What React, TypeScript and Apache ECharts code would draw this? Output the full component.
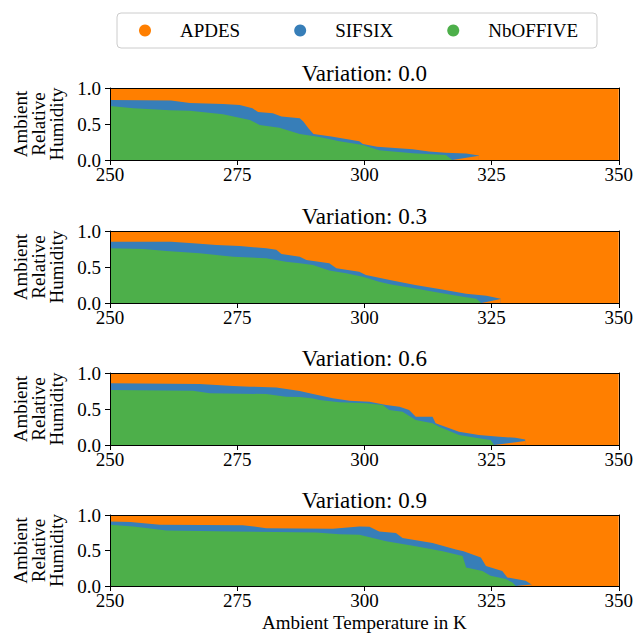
import React, { useEffect, useRef } from "react";
import * as echarts from "echarts";

// ---- data ----
const variations = ["0.0", "0.3", "0.6", "0.9"];
const xTicks = [250, 275, 300, 325, 350];
const yTicks = [0, 0.5, 1.0];
const legendNames = ["APDES", "SIFSIX", "NbOFFIVE"];

// SIFSIX upper boundary [temperature K, humidity]
const sifsix00: [number, number][] = [
  [250, 0.835], [262, 0.825], [265.7, 0.79], [272.2, 0.778], [275.5, 0.765], [278, 0.72],
  [279.1, 0.665], [282, 0.648], [283.7, 0.605], [287.3, 0.58], [288, 0.535], [289, 0.44],
  [290, 0.36], [293.5, 0.325], [296.4, 0.29], [299, 0.26], [299.7, 0.222], [302.5, 0.185],
  [309.5, 0.148], [312.7, 0.118], [316, 0.1], [320, 0.092], [322.5, 0.062],
];
const nboffive00: [number, number][] = [
  [250, 0.75], [254.6, 0.72], [261.8, 0.69], [265.7, 0.683], [272.2, 0.634], [277.5, 0.556],
  [279.4, 0.487], [283.3, 0.449], [287.3, 0.36], [291.2, 0.318], [295.1, 0.262], [299.7, 0.208],
  [302.9, 0.135], [309.5, 0.093], [316, 0.07], [317.3, 0],
];
const apdesTail00: [number, number][] = [[317.3, 0], [322.5, 0.058]];

const sifsix03: [number, number][] = [
  [250, 0.85], [262, 0.85], [266.3, 0.829], [270.9, 0.806], [275.5, 0.79], [280.7, 0.76],
  [282.7, 0.74], [283.7, 0.68], [287.3, 0.643], [288.6, 0.597], [293.1, 0.551], [294.5, 0.482],
  [299, 0.435], [300.3, 0.389], [302.9, 0.352], [305, 0.32], [310, 0.25], [315, 0.19],
  [320, 0.13], [324, 0.1], [326.8, 0.06],
];
const nboffive03: [number, number][] = [
  [250, 0.76], [256.5, 0.75], [261.1, 0.722], [267.6, 0.69], [274.2, 0.643], [280.7, 0.62],
  [284.6, 0.574], [287.3, 0.551], [289.9, 0.528], [293.1, 0.45], [296.4, 0.412], [299.7, 0.366],
  [302.9, 0.296], [305, 0.26], [310, 0.2], [315, 0.14], [320, 0.08], [322, 0.06], [323, 0],
];
const apdesTail03: [number, number][] = [[323, 0], [326.8, 0.055]];

const sifsix06: [number, number][] = [
  [250, 0.857], [267.6, 0.847], [274.2, 0.82], [277.5, 0.81], [282.7, 0.8], [287.3, 0.75],
  [289.9, 0.708], [293.8, 0.648], [297.1, 0.616], [301, 0.602], [304.3, 0.556], [306.9, 0.532],
  [308.8, 0.486], [310.1, 0.394], [313.4, 0.394], [314, 0.301], [318.6, 0.185], [322.5, 0.139],
  [326.5, 0.116], [329.7, 0.1], [331.6, 0.075],
];
const nboffive06: [number, number][] = [
  [250, 0.764], [266.3, 0.755], [269.6, 0.718], [280.7, 0.708], [284.6, 0.671], [287.3, 0.665],
  [289.9, 0.645], [291.2, 0.625], [295.1, 0.595], [300.3, 0.579], [303.6, 0.556], [304.9, 0.486],
  [307.5, 0.463], [310.1, 0.347], [313.4, 0.301], [314.7, 0.255], [318.6, 0.139], [322.5, 0.093],
  [324.8, 0.07], [325.5, 0],
];
const apdesTail06: [number, number][] = [[325.5, 0], [331.6, 0.055]];

const sifsix09: [number, number][] = [
  [250, 0.907], [254, 0.9], [259.8, 0.861], [276.1, 0.856], [280.7, 0.815], [293.8, 0.808],
  [299, 0.838], [301, 0.835], [302.9, 0.768], [306.2, 0.745], [307.5, 0.676], [313.4, 0.607],
  [318, 0.514], [319.5, 0.49], [322.9, 0.4], [323.9, 0.282], [327.1, 0.213], [328.1, 0.12],
  [331.7, 0.074], [332.8, 0.025],
];
const nboffive09: [number, number][] = [
  [250, 0.861], [254.6, 0.838], [261.1, 0.782], [274.2, 0.768], [290.5, 0.755], [295.1, 0.73],
  [299, 0.722], [304.3, 0.63], [310.1, 0.56], [315.4, 0.49], [319.3, 0.421], [320, 0.26],
  [323.2, 0.213], [324.8, 0.144], [327.8, 0.097], [329.1, 0.051], [329.8, 0],
];
const apdesTail09: [number, number][] = [[329.8, 0], [332.8, 0.02]];

const sifsixAll = [sifsix00, sifsix03, sifsix06, sifsix09];
const nboffiveAll = [nboffive00, nboffive03, nboffive06, nboffive09];
const apdesTailAll = [apdesTail00, apdesTail03, apdesTail06, apdesTail09];

// ---- style ----
const ORANGE = "#ff7f00";
const BLUE = "#377eb8";
const GREEN = "#4daf4a";
const FONT = "'Liberation Serif', 'DejaVu Serif', serif";

export default function App() {
  const ref = useRef<HTMLDivElement>(null);

  useEffect(() => {
    if (!ref.current) return;
    const chart = echarts.init(ref.current, undefined, { renderer: "svg" });

    const tops = [88, 231, 373, 515];
    const gridH = 72;
    const grids = tops.map((t) => ({
      left: 110,
      width: 510,
      top: t,
      height: gridH,
      show: true,
      backgroundColor: ORANGE,
      borderWidth: 0,
    }));

    const xAxes: any[] = [];
    const yAxes: any[] = [];
    const series: any[] = [];
    const xMin = xTicks[0];
    const xMax = xTicks[xTicks.length - 1];
    const xStep = xTicks[1] - xTicks[0];
    const yStep = yTicks[1] - yTicks[0];

    variations.forEach((v, i) => {
      const last = i === variations.length - 1;
      xAxes.push({
        type: "value",
        gridIndex: i,
        position: "bottom",
        min: xMin,
        max: xMax,
        interval: xStep,
        z: 3,
        axisLine: { show: true, onZero: false, lineStyle: { color: "#000", width: 1 } },
        axisTick: { show: true, length: 5, lineStyle: { color: "#000" } },
        axisLabel: { show: true, margin: 5, fontSize: 19, fontFamily: FONT, color: "#000" },
        splitLine: { show: false },
        name: last ? "Ambient Temperature in K" : "",
        nameLocation: "middle",
        nameGap: 27,
        nameTextStyle: { fontSize: 19, fontFamily: FONT, color: "#000" },
      });
      xAxes.push({
        type: "value",
        gridIndex: i,
        position: "top",
        min: xMin,
        max: xMax,
        interval: xStep,
        z: 3,
        axisLine: { show: true, onZero: false, lineStyle: { color: "#000", width: 1 } },
        axisTick: { show: false },
        axisLabel: { show: false },
        splitLine: { show: false },
        name: "Variation: " + v,
        nameLocation: "middle",
        nameGap: 3,
        nameTextStyle: { fontSize: 23, fontFamily: FONT, color: "#000" },
      });
      yAxes.push({
        type: "value",
        gridIndex: i,
        position: "left",
        min: yTicks[0],
        max: yTicks[yTicks.length - 1],
        interval: yStep,
        z: 3,
        axisLine: { show: true, onZero: false, lineStyle: { color: "#000", width: 1 } },
        axisTick: { show: true, length: 5, lineStyle: { color: "#000" } },
        axisLabel: {
          show: true,
          margin: 9,
          fontSize: 19,
          fontFamily: FONT,
          color: "#000",
          formatter: (val: number) => val.toFixed(1),
        },
        splitLine: { show: false },
        name: "Ambient\nRelative\nHumidity",
        nameLocation: "middle",
        nameRotate: 90,
        nameGap: 41,
        nameTextStyle: { fontSize: 19, lineHeight: 18, fontFamily: FONT, color: "#000" },
      });
      yAxes.push({
        type: "value",
        gridIndex: i,
        position: "right",
        min: yTicks[0],
        max: yTicks[yTicks.length - 1],
        interval: yStep,
        z: 3,
        axisLine: { show: true, onZero: false, lineStyle: { color: "#000", width: 1 } },
        axisTick: { show: false },
        axisLabel: { show: false },
        splitLine: { show: false },
      });

      const base = {
        type: "line",
        xAxisIndex: 2 * i,
        yAxisIndex: 2 * i,
        showSymbol: false,
        symbol: "none",
        silent: true,
        lineStyle: { width: 0 },
      };
      series.push({
        ...base,
        name: legendNames[1],
        data: sifsixAll[i],
        itemStyle: { color: BLUE },
        areaStyle: { color: BLUE, opacity: 1 },
      });
      series.push({
        ...base,
        name: legendNames[0],
        data: apdesTailAll[i],
        itemStyle: { color: ORANGE },
        areaStyle: { color: ORANGE, opacity: 1 },
      });
      series.push({
        ...base,
        name: legendNames[2],
        data: nboffiveAll[i],
        itemStyle: { color: GREEN },
        areaStyle: { color: GREEN, opacity: 1 },
      });
    });

    chart.setOption({
      animation: false,
      backgroundColor: "#fff",
      textStyle: { fontFamily: FONT, color: "#000" },
      legend: {
        left: 117,
        top: 13,
        orient: "horizontal",
        selectedMode: false,
        icon: "circle",
        itemWidth: 12,
        itemHeight: 12,
        itemGap: 54,
        padding: [7, 19, 7, 22],
        borderColor: "#cccccc",
        borderWidth: 1,
        borderRadius: 4,
        backgroundColor: "#fff",
        textStyle: {
          fontSize: 19,
          lineHeight: 21,
          fontFamily: FONT,
          color: "#000",
          padding: [0, 0, 0, 24],
        },
        data: [
          { name: legendNames[0], itemStyle: { color: ORANGE } },
          { name: legendNames[1], itemStyle: { color: BLUE } },
          { name: legendNames[2], itemStyle: { color: GREEN } },
        ],
      },
      grid: grids,
      xAxis: xAxes,
      yAxis: yAxes,
      series,
    });

    return () => chart.dispose();
  }, []);

  return (
    <div
      ref={ref}
      style={{ position: "fixed", left: 0, top: 0, width: 636, height: 633, background: "#fff" }}
    />
  );
}
